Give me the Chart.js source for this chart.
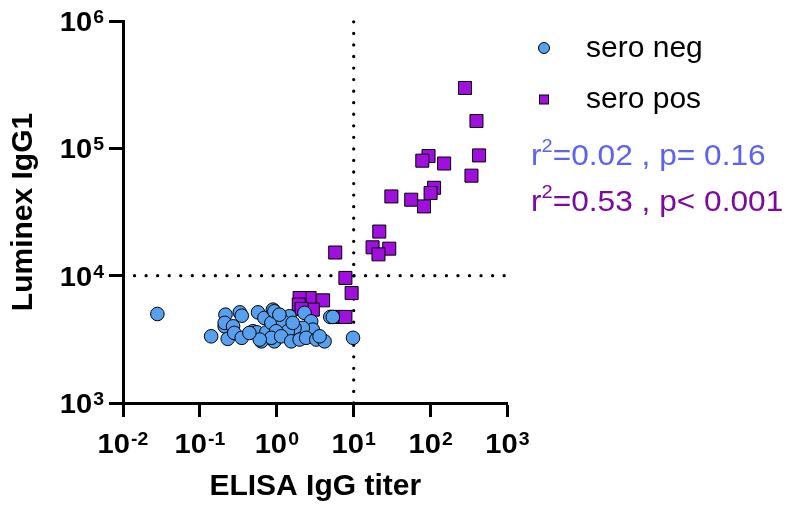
<!DOCTYPE html>
<html>
<head>
<meta charset="utf-8">
<script src="https://cdn.jsdelivr.net/npm/chart.js@4.4.1/dist/chart.umd.min.js"></script>
<style>
  html, body { margin: 0; padding: 0; background: #fff; }
  #wrap { width: 791px; height: 510px; }
</style>
</head>
<body>
<div id="wrap"><canvas id="scatterChart" width="791" height="510"></canvas></div>
<script>
// sero neg: ELISA IgG titer vs Luminex IgG1
const negX = [0.028, 0.14, 0.215, 0.21, 0.21, 0.27, 0.23, 0.33, 0.35, 0.28, 0.35, 0.49, 0.57, 0.55, 0.63,
    0.69, 0.73, 0.89, 0.93, 0.85, 0.93, 1.46, 2.29, 1.2, 2.8, 2.94, 2.18, 1.7, 1.39, 0.98, 0.85, 1.14,
    1.54, 1.98, 2.41, 3.26, 4.18, 3.6, 4.96, 5.35, 9.8, 1.08, 1.61, 0.6, 0.44];
const negY = [5000, 3340, 4940, 4000, 4260, 4000, 3190, 5150, 4850, 3550, 3250, 3660, 5150, 3590, 3050,
    4660, 3590, 5410, 3050, 4260, 5250, 4800, 5100, 4380, 4380, 3770, 3890, 3890, 3660, 3660, 3250, 3340,
    3050, 3150, 3250, 3150, 3050, 3340, 4740, 4740, 3250, 4940, 4260, 3150, 3550];

// sero pos
const posX = [280, 395, 427, 94, 78, 150, 340, 111, 100, 30.9, 56, 82, 21.5, 17.6, 29, 21, 5.75, 7.8,
    9.4, 2.67, 1.98, 4.0, 1.93, 2.94, 2.1, 6.0, 6.9, 7.8];
const posY = [298000, 164000, 88000, 87000, 80000, 76000, 61000, 49000, 44600, 41900, 39500, 35000,
    22200, 16700, 16300, 14700, 15200, 9600, 7300, 6680, 6680, 6400, 5930, 5410, 5480, 4740, 4740, 4740];

// axes
const xTickExps = [-2, -1, 0, 1, 2, 3];
const yTickExps = [3, 4, 5, 6];
const cutoffX = 10;
const cutoffY = 10000;

const legendLabels = ['sero neg', 'sero pos'];
const statLines = [
    { r2: '0.02', p: 'p= 0.16', color: '#5b63f4' },
    { r2: '0.53', p: 'p< 0.001', color: '#7c0a9f' }
];

const negColor = '#56a0f0';
const posColor = '#a10fdf';
const FONT = '"Liberation Sans", Arial, sans-serif';

function toPoints(xs, ys) {
    return xs.map((x, i) => ({ x: x, y: ys[i] }));
}

const xMin = Math.pow(10, xTickExps[0]);
const xMax = Math.pow(10, xTickExps[xTickExps.length - 1]);
const yMin = Math.pow(10, yTickExps[0]);
const yMax = Math.pow(10, yTickExps[yTickExps.length - 1]);

// draws "10" with superscript exponent, a bit wider like the original
function drawPower(ctx, exp, x, y, align) {
    const sx = 1.08;
    const base = '10';
    const sup = String(exp);
    ctx.font = 'bold 27px ' + FONT;
    const wBase = ctx.measureText(base).width;
    ctx.font = 'bold 18px ' + FONT;
    const wSup = ctx.measureText(sup).width;
    const total = (wBase + wSup + 1) * sx;
    let left = x - total / 2;
    if (align === 'right') left = x - total;
    ctx.save();
    ctx.translate(left, y);
    ctx.scale(sx, 1);
    ctx.textAlign = 'left';
    ctx.textBaseline = 'alphabetic';
    ctx.fillStyle = '#000';
    ctx.font = 'bold 27px ' + FONT;
    ctx.fillText(base, 0, 0);
    ctx.font = 'bold 18px ' + FONT;
    ctx.fillText(sup, wBase + 1, -8);
    ctx.restore();
}

const labelsPlugin = {
    id: 'labelsPlugin',
    afterDraw(chart) {
        const ctx = chart.ctx;
        const xs = chart.scales.x;
        const ys = chart.scales.y;
        ctx.save();

        // tick labels
        xTickExps.forEach(e => {
            const px = xs.getPixelForValue(Math.pow(10, e));
            drawPower(ctx, e, px, 453, 'center');
        });
        yTickExps.forEach(e => {
            const py = ys.getPixelForValue(Math.pow(10, e));
            drawPower(ctx, e, 104, py + 10, 'right');
        });

        // legend
        ctx.lineWidth = 1;
        ctx.strokeStyle = '#000';
        ctx.fillStyle = negColor;
        ctx.beginPath();
        ctx.arc(544, 48, 5.5, 0, Math.PI * 2);
        ctx.fill();
        ctx.stroke();
        ctx.fillStyle = posColor;
        ctx.fillRect(539.5, 95, 9, 9);
        ctx.strokeRect(539.5, 95, 9, 9);

        ctx.fillStyle = '#000';
        ctx.font = '30px ' + FONT;
        ctx.textAlign = 'left';
        ctx.textBaseline = 'alphabetic';
        ctx.fillText(legendLabels[0], 586, 57);
        ctx.fillText(legendLabels[1], 586, 107.5);

        // r^2 / p annotations
        const baselines = [164.5, 210.5];
        statLines.forEach((s, i) => {
            ctx.save();
            ctx.translate(531, baselines[i]);
            ctx.scale(1.055, 1);
            let x = 0;
            ctx.fillStyle = s.color;
            ctx.font = '30px ' + FONT;
            ctx.fillText('r', x, 0);
            x += ctx.measureText('r').width;
            ctx.font = '19px ' + FONT;
            ctx.fillText('2', x, -13);
            x += ctx.measureText('2').width;
            ctx.font = '30px ' + FONT;
            ctx.fillText('=' + s.r2 + ' , ' + s.p, x, 0);
            ctx.restore();
        });
        ctx.restore();
    }
};

const ctx = document.getElementById('scatterChart').getContext('2d');
const chart = new Chart(ctx, {
    type: 'scatter',
    data: {
        datasets: [{
            label: legendLabels[0],
            data: toPoints(negX, negY),
            pointStyle: 'circle',
            pointRadius: 6.8,
            pointHoverRadius: 6.8,
            backgroundColor: negColor,
            borderColor: '#000',
            borderWidth: 1
        }, {
            label: legendLabels[1],
            data: toPoints(posX, posY),
            pointStyle: 'rect',
            pointRadius: 9.2,
            pointHoverRadius: 9.2,
            backgroundColor: posColor,
            borderColor: '#000',
            borderWidth: 1
        }, {
            type: 'line',
            label: 'cutoff y',
            data: [{ x: xMin, y: cutoffY }, { x: xMax, y: cutoffY }],
            showLine: true,
            pointRadius: 0,
            borderColor: '#000',
            borderWidth: 3.3,
            borderDash: [0, 11.55],
            borderCapStyle: 'round',
            clip: false
        }, {
            type: 'line',
            label: 'cutoff x',
            data: [{ x: cutoffX, y: yMin }, { x: cutoffX, y: yMax }],
            showLine: true,
            pointRadius: 0,
            borderColor: '#000',
            borderWidth: 3.3,
            borderDash: [0, 11.55],
            borderCapStyle: 'round',
            clip: false
        }]
    },
    options: {
        responsive: false,
        animation: false,
        events: [],
        layout: {
            padding: { left: 0, top: 21, right: 283.5, bottom: 0 }
        },
        plugins: {
            legend: { display: false },
            tooltip: { enabled: false }
        },
        scales: {
            x: {
                type: 'logarithmic',
                min: xMin,
                max: xMax,
                afterBuildTicks: (scale) => {
                    scale.ticks = xTickExps.map(e => ({ value: Math.pow(10, e), major: true }));
                },
                afterFit: (scale) => { scale.height = 107; },
                ticks: { display: false },
                grid: {
                    display: true,
                    drawOnChartArea: false,
                    drawTicks: true,
                    tickLength: 14,
                    tickWidth: 3,
                    tickColor: '#000'
                },
                border: { display: true, width: 3, color: '#000' },
                title: {
                    display: true,
                    text: 'ELISA IgG titer',
                    color: '#000',
                    font: { family: FONT, size: 30, weight: 'bold' },
                    padding: { top: 0, bottom: 5 }
                }
            },
            y: {
                type: 'logarithmic',
                min: yMin,
                max: yMax,
                afterBuildTicks: (scale) => {
                    scale.ticks = yTickExps.map(e => ({ value: Math.pow(10, e), major: true }));
                },
                afterFit: (scale) => { scale.width = 123; },
                ticks: { display: false },
                grid: {
                    display: true,
                    drawOnChartArea: false,
                    drawTicks: true,
                    tickLength: 14,
                    tickWidth: 3,
                    tickColor: '#000'
                },
                border: { display: true, width: 3, color: '#000' },
                title: {
                    display: true,
                    text: 'Luminex IgG1',
                    color: '#000',
                    font: { family: FONT, size: 30, weight: 'bold' },
                    padding: { top: 6, bottom: 0 }
                }
            }
        }
    },
    plugins: [labelsPlugin]
});
</script>
</body>
</html>
